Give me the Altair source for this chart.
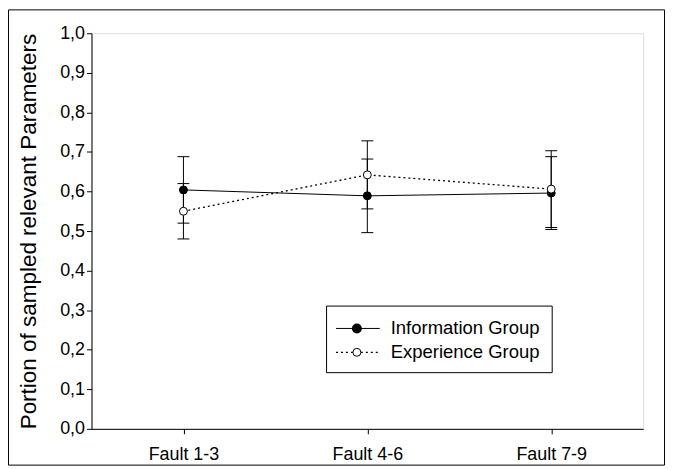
import altair as alt
import pandas as pd

faults = ["Fault 1-3", "Fault 4-6", "Fault 7-9"]
groups = ["Information Group", "Experience Group"]
info_mean = [0.604, 0.589, 0.596]
info_err = [0.084, 0.093, 0.092]
exp_mean = [0.550, 0.642, 0.606]
exp_err = [0.070, 0.086, 0.097]
y_ticks = [0.0, 0.1, 0.2, 0.3, 0.4, 0.5, 0.6, 0.7, 0.8, 0.9, 1.0]

rows = []
for g, means, errs in [(groups[0], info_mean, info_err), (groups[1], exp_mean, exp_err)]:
    for f, m, e in zip(faults, means, errs):
        rows.append({"fault": f, "group": g, "mean": m, "lo": m - e, "hi": m + e})
df = pd.DataFrame(rows)
info_df = df[df.group == groups[0]]
exp_df = df[df.group == groups[1]]

FONT = "Liberation Sans"
W, H = 555, 398

x = alt.X("fault:O", sort=faults, scale=alt.Scale(type="point", padding=0.5),
          axis=alt.Axis(title=None, labelAngle=0, labelFontSize=18, labelFont=FONT,
                        labelColor="black", tickSize=5, tickColor="black",
                        domainColor="black", labelPadding=12, grid=False))
y_axis = alt.Axis(values=y_ticks, labelExpr="replace(format(datum.value, '.1f'), '.', ',')",
                  labelFontSize=18, labelFont=FONT, labelColor="black", tickSize=5,
                  tickColor="black", domainColor="black", labelPadding=2, grid=False,
                  labelOverlap=False, labelFlush=False,
                  title="Portion of sampled relevant Parameters", titleFontSize=22.6,
                  titleFont=FONT, titleFontWeight="normal", titleColor="black",
                  titleX=-63, titleY=199, titleAngle=270, titleAlign="center",
                  titleBaseline="middle")
yscale = alt.Scale(domain=[0, 1], nice=False, zero=True)


def Y(field):
    return alt.Y(field, scale=yscale, axis=y_axis)


line_info = alt.Chart(info_df).mark_line(color="black", strokeWidth=1).encode(
    x=x, y=Y("mean:Q"))
line_exp = alt.Chart(exp_df).mark_line(color="black", strokeWidth=1.3, strokeDash=[2, 3]).encode(
    x=x, y=Y("mean:Q"))

err = alt.Chart(df).mark_rule(color="black", strokeWidth=1).encode(
    x=x, y=Y("lo:Q"), y2="hi:Q")
cap_lo = alt.Chart(df).mark_tick(color="black", orient="horizontal", size=12, thickness=1, opacity=1).encode(
    x=x, y=Y("lo:Q"))
cap_hi = alt.Chart(df).mark_tick(color="black", orient="horizontal", size=12, thickness=1, opacity=1).encode(
    x=x, y=Y("hi:Q"))

pt_info = alt.Chart(info_df).mark_point(shape="circle", filled=True, fill="black", stroke="black",
                                        strokeWidth=1, size=64, opacity=1).encode(
    x=x, y=Y("mean:Q"))
pt_exp = alt.Chart(exp_df).mark_point(shape="circle", filled=True, fill="white", stroke="black",
                                      strokeWidth=1, size=64, opacity=1).encode(
    x=x, y=Y("mean:Q"))

# legend (decoration)
leg_df0 = pd.DataFrame({"label": [groups[0]]})
leg_df1 = pd.DataFrame({"label": [groups[1]]})
box = alt.Chart(leg_df0).mark_rect(fillOpacity=0, stroke="black", strokeWidth=1).encode(
    x=alt.value(236.5), x2=alt.value(463.5), y=alt.value(274.5), y2=alt.value(341.5))
r0, r1 = 297, 321
leg_line0 = alt.Chart(leg_df0).mark_rule(color="black", strokeWidth=1).encode(
    x=alt.value(246), x2=alt.value(290), y=alt.value(r0))
leg_line1 = alt.Chart(leg_df1).mark_rule(color="black", strokeWidth=1.3, strokeDash=[2, 3]).encode(
    x=alt.value(246), x2=alt.value(290), y=alt.value(r1))
leg_pt0 = alt.Chart(leg_df0).mark_point(shape="circle", filled=True, fill="black", stroke="black",
                                        size=64, opacity=1).encode(x=alt.value(267), y=alt.value(r0))
leg_pt1 = alt.Chart(leg_df1).mark_point(shape="circle", filled=True, fill="white", stroke="black",
                                        strokeWidth=1, size=64, opacity=1).encode(x=alt.value(267), y=alt.value(r1))
leg_t0 = alt.Chart(leg_df0).mark_text(align="left", baseline="middle", fontSize=18.6, font=FONT,
                                      color="black").encode(x=alt.value(301), y=alt.value(r0), text="label:N")
leg_t1 = alt.Chart(leg_df1).mark_text(align="left", baseline="middle", fontSize=18.6, font=FONT,
                                      color="black").encode(x=alt.value(301), y=alt.value(r1), text="label:N")

frame = alt.Chart(leg_df0).mark_rect(fillOpacity=0, stroke="black", strokeWidth=1).encode(
    x=alt.value(-83.5), x2=alt.value(576.5), y=alt.value(-23.5), y2=alt.value(434.5))

chart = alt.layer(
    line_info, line_exp, err, cap_lo, cap_hi, pt_info, pt_exp,
    box, leg_line0, leg_line1, leg_pt0, leg_pt1, leg_t0, leg_t1, frame
).properties(
    width=W, height=H,
    autosize=alt.AutoSizeParams(type="none"),
    padding={"left": 84, "top": 24, "right": 25, "bottom": 37},
).configure_view(stroke=None).configure(background="white")

chart.save("out.html", embed_options={"renderer": "svg", "actions": False})
